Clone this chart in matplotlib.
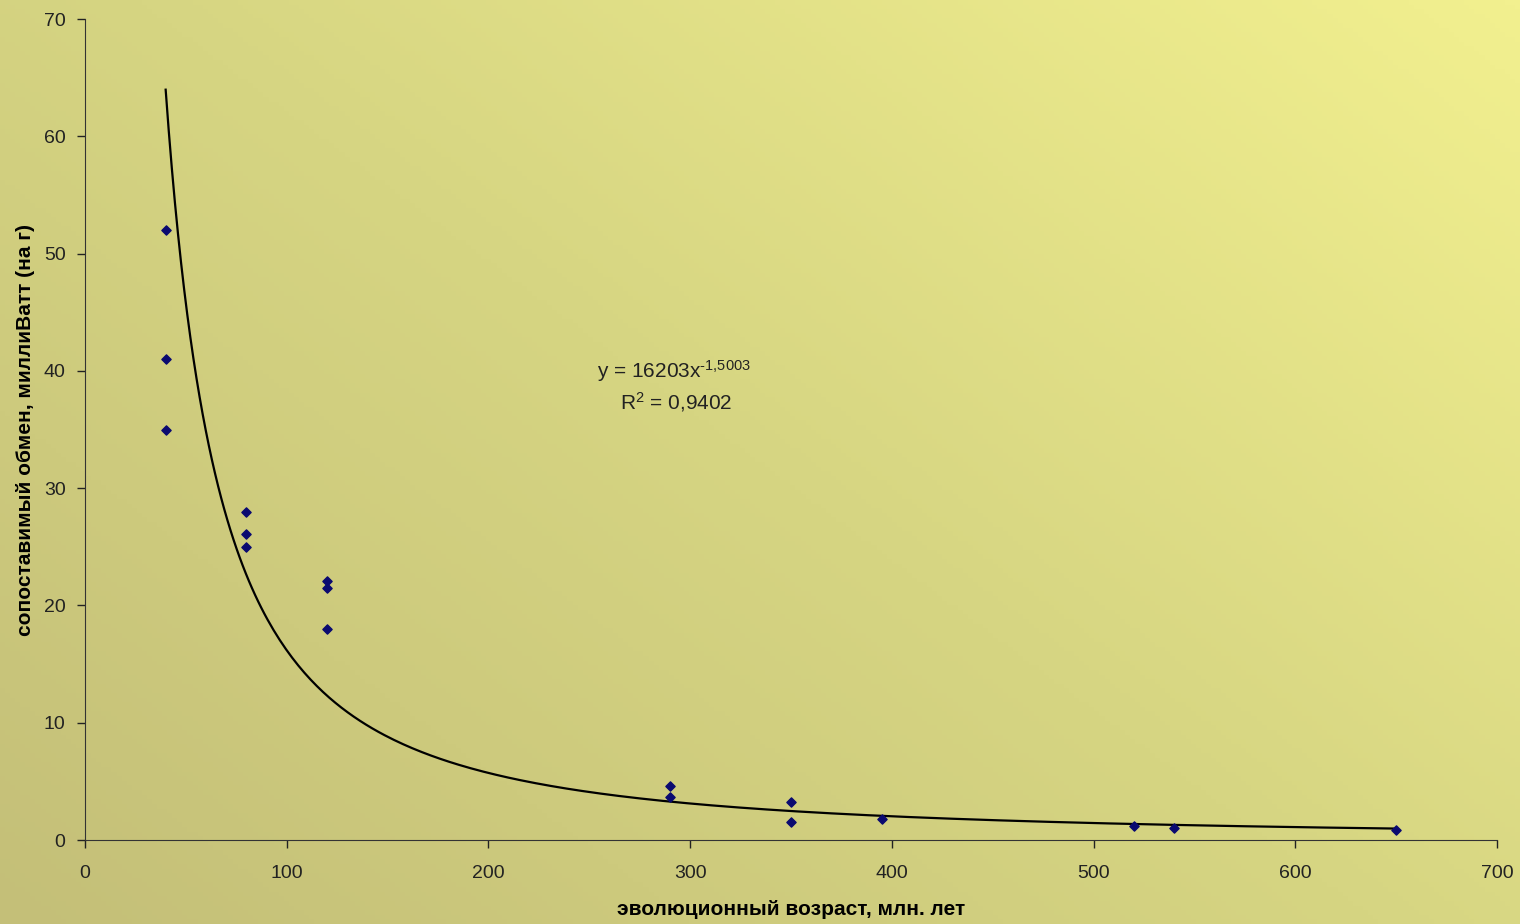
import numpy as np
import matplotlib.pyplot as plt
from matplotlib.colors import LinearSegmentedColormap

plt.rcParams["font.family"] = ["Liberation Sans", "DejaVu Sans"]
plt.rcParams["mathtext.fontset"] = "custom"
plt.rcParams["mathtext.rm"] = "Liberation Sans"
plt.rcParams["mathtext.it"] = "Liberation Sans"

# observed points
age = [40, 40, 40, 80, 80, 80, 120, 120, 120, 290, 290, 350, 350, 395, 520, 540, 650]
metab = [52, 41, 35, 28, 26.1, 25, 22.1, 21.5, 18, 4.6, 3.7, 3.2, 1.5, 1.75, 1.2, 1.0, 0.85]

# power trendline as shown on the chart
coef_a = 16203
coef_b = -1.5003
r2_text = "0,9402"

x_ticks = [0, 100, 200, 300, 400, 500, 600, 700]
y_ticks = [0, 10, 20, 30, 40, 50, 60, 70]

fig = plt.figure(figsize=(15.2, 9.24), dpi=100)

# background gradient: olive bottom-left -> light yellow top-right
bg = fig.add_axes([0, 0, 1, 1], zorder=-1)
gx, gy = np.meshgrid(np.linspace(0, 1, 300), np.linspace(0, 1, 200))
grad = (gx * 0.55 + gy * 0.45)
cmap = LinearSegmentedColormap.from_list("bg", ["#c4bf78", "#d6d582", "#f2f08f"])
bg.imshow(grad, cmap=cmap, origin="lower", aspect="auto", extent=[0, 1, 0, 1])
bg.axis("off")

ax = fig.add_axes([0.0559, 0.0909, 0.9290, 0.8885])
ax.patch.set_alpha(0)

ax.scatter(age, metab, marker="D", s=22, color="#0a0a70", zorder=3)

xs = np.linspace(min(age), max(age), 400)
ax.plot(xs, coef_a * xs ** coef_b, color="black", lw=1.6, zorder=2)

ax.set_xlim(0, 700)
ax.set_ylim(0, 70)
ax.set_xticks(x_ticks)
ax.set_yticks(y_ticks)
ax.tick_params(labelsize=14, colors="#222222", length=6, width=1)
ax.tick_params(axis="x", pad=12)
ax.tick_params(axis="y", pad=8)
for side in ["top", "right"]:
    ax.spines[side].set_visible(False)
for side in ["left", "bottom"]:
    ax.spines[side].set_color("#333333")

ax.set_xlabel("эволюционный возраст, млн. лет", fontsize=15, fontweight="bold", labelpad=13)
ax.set_ylabel("сопоставимый обмен, миллиВатт (на г)", fontsize=15, fontweight="bold", labelpad=6)

eq_exp = str(coef_b).replace(".", ",")
ax.text(292, 40.0, r"y = 16203x$^{\text{%s}}$" % eq_exp,
        fontsize=15, ha="center", va="center", color="#222222")
ax.text(293, 37.3, r"R$^{2}$ = " + r2_text, fontsize=15, ha="center", va="center", color="#222222")

fig.savefig("out.png", dpi=100)
